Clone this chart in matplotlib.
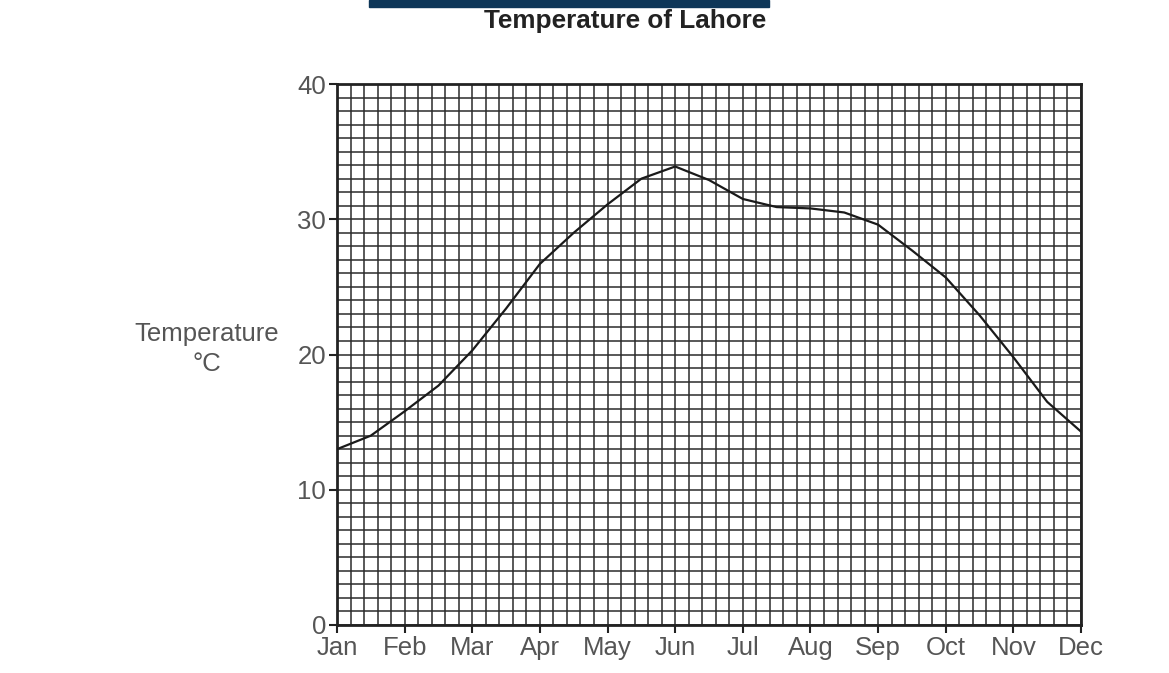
import numpy as np
import matplotlib.pyplot as plt
from matplotlib.patches import Rectangle

plt.rcParams['font.family'] = ['Liberation Sans', 'DejaVu Sans']

# months (tick labels) and curve readings at half-month steps (0 = Jan)
months = ['Jan', 'Feb', 'Mar', 'Apr', 'May', 'Jun',
          'Jul', 'Aug', 'Sep', 'Oct', 'Nov', 'Dec']
month_pos = [0, 0.5, 1, 1.5, 2, 2.5, 3, 3.5, 4, 4.5, 5, 5.5,
             6, 6.5, 7, 7.5, 8, 8.5, 9, 9.5, 10, 10.5, 11]
temps = [13.0, 14.0, 15.8, 17.7, 20.3, 23.4, 26.7, 29.0, 31.1, 33.0, 33.9, 32.9,
         31.5, 30.9, 30.8, 30.5, 29.6, 27.7, 25.7, 22.9, 19.8, 16.5, 14.3]

fig = plt.figure(figsize=(11.69, 6.73), dpi=100)
ax = fig.add_axes([337/1169, 1 - 625/673, (1081 - 337)/1169, (625 - 84)/673])

# graph-paper grid: 5 divisions per month, 1 degree per line
for x in np.arange(0, 11.01, 0.2):
    ax.axvline(x, color='#2b2b2b', lw=1.1, zorder=1)
for y in np.arange(0, 40.01, 1):
    ax.axhline(y, color='#2b2b2b', lw=1.1, zorder=1)

ax.plot(month_pos, temps, color='#1a1a1a', lw=1.6, zorder=3)

ax.set_xlim(0, 11)
ax.set_ylim(0, 40)
ax.set_xticks(range(12))
ax.set_xticklabels(months)
ax.set_yticks([0, 10, 20, 30, 40])
ax.tick_params(axis='both', direction='out', length=6, width=1.5,
               color='#222222', labelcolor='#555555', labelsize=18.5, pad=2)
for s in ax.spines.values():
    s.set_linewidth(2)
    s.set_color('#222222')

fig.text(207/1169, 1 - 349/673, 'Temperature\n°C', ha='center', va='center',
         fontsize=18.5, color='#555555', linespacing=1.3)

fig.patches.append(Rectangle((369/1169, 1 - 7/673), 400/1169, 7/673,
                             transform=fig.transFigure, color='#0d3658', zorder=5))
fig.text(625/1169, 1 - 21/673, 'Temperature of Lahore', ha='center', va='center',
         fontsize=18.8, fontweight='bold', color='#222222')

fig.savefig('out.png', dpi=100)
